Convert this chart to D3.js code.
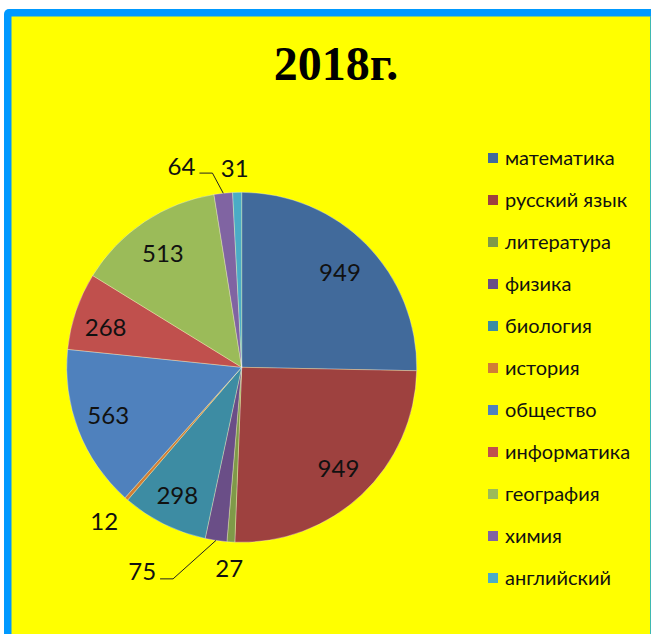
<!DOCTYPE html>
<html>
<head>
<meta charset="utf-8">
<script src="https://cdn.jsdelivr.net/npm/d3@7"></script>
<style>
  html, body { margin: 0; padding: 0; background: #fff; }
  svg { display: block; }
</style>
</head>
<body>
<div id="chart"></div>
<script>
// chart data
const title = '2018г.'
const subjects = ['математика', 'русский язык', 'литература', 'физика', 'биология', 'история',
                  'общество', 'информатика', 'география', 'химия', 'английский']
const counts = [949, 949, 27, 75, 298, 12, 563, 268, 513, 64, 31]

const colors = ['#416A9B', '#9E413F', '#7F9A48', '#6A4E87', '#3D8CA3', '#D17D35',
                '#4F81BD', '#C0504D', '#9BBB59', '#8064A2', '#4BACC6']

// where each value label sits: r = fraction of radius, shift = degrees off the slice middle
const labelLayout = [
    {r: 0.78, shift: 0.5}, {r: 0.8, shift: -0.4}, {r: 1.15, shift: 0}, {r: 1.3, shift: 17.5, leader: true},
    {r: 0.82, shift: 0.3}, {r: 1.18, shift: 0.5}, {r: 0.81, shift: 1.5}, {r: 0.81, shift: -2.5},
    {r: 0.79, shift: -1}, {r: 1.2, shift: -10.6, leader: true}, {r: 1.14, shift: -0.5}
]

const width = 651
const height = 634
const cx = 241.7, cy = 367.3, radius = 175

const svg = d3.select('#chart')
    .append('svg')
    .attr('width', width)
    .attr('height', height)

// frame
svg.append('rect')
    .attr('x', 4).attr('y', 9)
    .attr('width', 660).attr('height', 640)
    .attr('rx', 5)
    .attr('fill', '#0099FF')
svg.append('rect')
    .attr('x', 11.5).attr('y', 16.5)
    .attr('width', 650 - 11.5).attr('height', 640)
    .attr('fill', '#FFFF00')
svg.append('line')
    .attr('x1', 650.5).attr('x2', 650.5)
    .attr('y1', 16).attr('y2', height)
    .attr('stroke', '#3fb8b0').attr('stroke-width', 1)

// title
svg.append('text')
    .attr('x', 336)
    .attr('y', 80)
    .attr('text-anchor', 'middle')
    .style('font-family', '"Liberation Serif", "Times New Roman", serif')
    .style('font-weight', 'bold')
    .style('font-size', '48px')
    .text(title)

const pie = d3.pie().sort(null).value(d => d)
const arcs = pie(counts)

const arc = d3.arc().innerRadius(0).outerRadius(radius)

const g = svg.append('g')
    .attr('transform', `translate(${cx},${cy})`)

g.selectAll('path')
    .data(arcs)
    .enter()
    .append('path')
    .attr('d', arc)
    .attr('fill', (d, i) => colors[i])
    .attr('stroke', 'rgba(255,255,255,0.45)')
    .attr('stroke-width', 0.7)

// polar helper, angle in radians clockwise from 12 o'clock
function polar(a, r) {
    return [r * Math.sin(a), -r * Math.cos(a)]
}

const labelFont = 'Lato, "Open Sans", sans-serif'

arcs.forEach(function(d, i) {
    const lay = labelLayout[i]
    const mid = (d.startAngle + d.endAngle) / 2
    const pos = polar(mid + lay.shift * Math.PI / 180, lay.r * radius)

    const t = g.append('text')
        .attr('x', pos[0])
        .attr('y', pos[1])
        .attr('dy', '0.36em')
        .attr('text-anchor', 'middle')
        .style('font-family', labelFont)
        .style('font-size', '24px')
        .attr('fill', '#111')
        .text(counts[i])

    if (lay.leader) {
        const w = t.node().getComputedTextLength()
        const edge = polar(mid, radius)
        const right = pos[0] + w / 2
        const ly = pos[1] + 7
        g.append('path')
            .attr('d', d3.line()([edge, [right + 17, ly], [right + 4, ly]]))
            .attr('fill', 'none')
            .attr('stroke', '#222')
            .attr('stroke-width', 1)
    }
})

// legend
const legend = svg.append('g')
    .attr('transform', 'translate(488, 158)')

const rows = legend.selectAll('g')
    .data(subjects)
    .enter()
    .append('g')
    .attr('transform', (d, i) => `translate(0, ${i * 42})`)

rows.append('rect')
    .attr('x', 0).attr('y', -5)
    .attr('width', 10).attr('height', 10)
    .attr('fill', (d, i) => colors[i])

rows.append('text')
    .attr('x', 17)
    .attr('dy', '0.35em')
    .style('font-family', labelFont)
    .style('font-size', '20px')
    .attr('fill', '#111')
    .text(d => d)
</script>
</body>
</html>
